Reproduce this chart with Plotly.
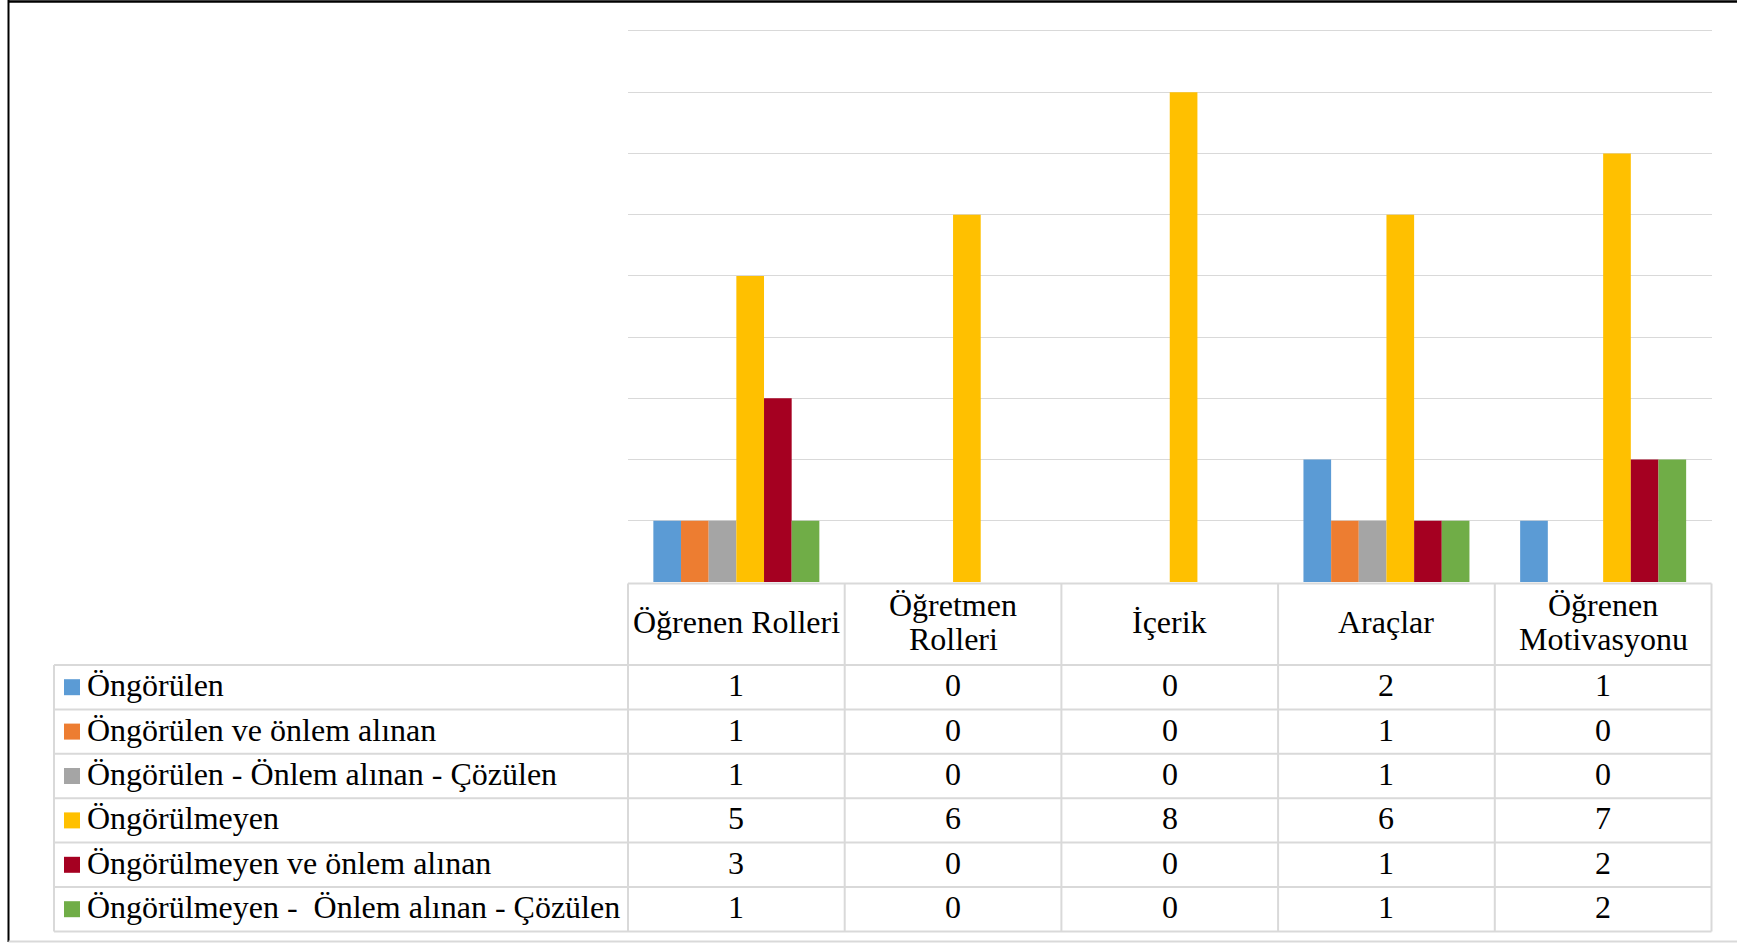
import plotly.graph_objects as go

# ---- data ----
categories = ["Öğrenen Rolleri", "Öğretmen Rolleri", "İçerik", "Araçlar", "Öğrenen Motivasyonu"]
header_lines = [["Öğrenen Rolleri"], ["Öğretmen", "Rolleri"], ["İçerik"], ["Araçlar"], ["Öğrenen", "Motivasyonu"]]
series_names = [
    "Öngörülen",
    "Öngörülen ve önlem alınan",
    "Öngörülen - Önlem alınan - Çözülen",
    "Öngörülmeyen",
    "Öngörülmeyen ve önlem alınan",
    "Öngörülmeyen -  Önlem alınan - Çözülen",
]
ongorulen = [1, 0, 0, 2, 1]
ongorulen_onlem = [1, 0, 0, 1, 0]
ongorulen_cozulen = [1, 0, 0, 1, 0]
ongorulmeyen = [5, 6, 8, 6, 7]
ongorulmeyen_onlem = [3, 0, 0, 1, 2]
ongorulmeyen_cozulen = [1, 0, 0, 1, 2]
series_values = [ongorulen, ongorulen_onlem, ongorulen_cozulen,
                 ongorulmeyen, ongorulmeyen_onlem, ongorulmeyen_cozulen]
colors = ["#5B9BD5", "#ED7D31", "#A5A5A5", "#FFC000", "#A50021", "#70AD47"]
y_max = 9

# ---- layout constants (pixels) ----
W, H = 1737, 944
FONT = "Liberation Serif, Times New Roman, serif"
FS = 32
GRID = "#d9d9d9"
plot_left, plot_right = 628, 1711.5
plot_top, plot_bottom = 31, 582
table_left = 54
header_top = 583.5
header_bottom = 665
row_h = 44.4
col_w = (plot_right - plot_left) / len(categories)
unit = (plot_bottom - plot_top) / y_max
pad = 0.05
text_dy = -2


def px(x):
    return x / W


def py(y):
    return 1 - y / H


fig = go.Figure()
for name, vals, col in zip(series_names, series_values, colors):
    fig.add_trace(go.Bar(name=name, x=categories, y=vals, marker_color=col,
                         marker_line_width=0, showlegend=False, hoverinfo="y+name"))

shapes = []
annotations = []

def line(x0, y0, x1, y1, color=GRID, width=2):
    shapes.append(dict(type="line", xref="paper", yref="paper",
                       x0=px(x0), y0=py(y0), x1=px(x1), y1=py(y1),
                       line=dict(color=color, width=width)))

# table: header row
line(plot_left, header_top, plot_right, header_top)
n_rows = len(series_names)
table_bottom = header_bottom + n_rows * row_h
for i in range(len(categories) + 1):
    xx = plot_left + i * col_w
    line(xx, header_top, xx, table_bottom)
line(table_left, header_bottom, table_left, table_bottom)
for r in range(n_rows + 1):
    yy = header_bottom + r * row_h
    line(table_left, yy, plot_right, yy)

# header text
header_mid = (header_top + header_bottom) / 2 + text_dy
for cat, lines_ in zip(categories, header_lines):
    if len(lines_) == 1:
        ys = [header_mid]
    else:
        ys = [header_mid - 17, header_mid + 17]
    for t, yy in zip(lines_, ys):
        annotations.append(dict(x=cat, xref="x", y=py(yy), yref="paper", text=t,
                                showarrow=False, xanchor="center", yanchor="middle",
                                font=dict(family=FONT, size=FS, color="#000000")))

# rows: legend keys, names, values
for r, (name, vals, col) in enumerate(zip(series_names, series_values, colors)):
    cy = header_bottom + (r + 0.5) * row_h
    shapes.append(dict(type="rect", xref="paper", yref="paper",
                       x0=px(64), x1=px(80), y0=py(cy - 8), y1=py(cy + 8),
                       fillcolor=col, line=dict(width=0)))
    annotations.append(dict(x=px(85), xref="paper", y=py(cy + text_dy), yref="paper",
                            text=name.replace("  ", " \u00a0"), showarrow=False,
                            xanchor="left", yanchor="middle",
                            font=dict(family=FONT, size=FS, color="#000000")))
    for cat, v in zip(categories, vals):
        annotations.append(dict(x=cat, xref="x", y=py(cy + text_dy), yref="paper", text=str(v),
                                showarrow=False, xanchor="center", yanchor="middle",
                                font=dict(family=FONT, size=FS, color="#000000")))

# outer frame
line(8.5, 1.5, W, 1.5, color="#000000", width=2.5)
line(8.5, 0, 8.5, 942, color="#000000", width=2)
line(8.5, 941.5, W, 941.5, color=GRID, width=2)

fig.update_layout(
    width=W, height=H, autosize=False,
    margin=dict(l=0, r=0, t=0, b=0),
    paper_bgcolor="#ffffff", plot_bgcolor="#ffffff",
    barmode="group", bargap=0.234, bargroupgap=0,
    shapes=shapes, annotations=annotations,
    xaxis=dict(domain=[px(plot_left), px(plot_right)], type="category",
               showticklabels=False, showgrid=False, showline=False, zeroline=False,
               fixedrange=True),
    yaxis=dict(domain=[py(plot_bottom), py(plot_top - pad * unit)], range=[0, y_max + pad],
               dtick=1, showticklabels=False, showgrid=True, gridcolor=GRID, gridwidth=1.3,
               zeroline=False, showline=False, fixedrange=True),
    font=dict(family=FONT),
)

fig.write_html("out.html", config={"displayModeBar": False})
